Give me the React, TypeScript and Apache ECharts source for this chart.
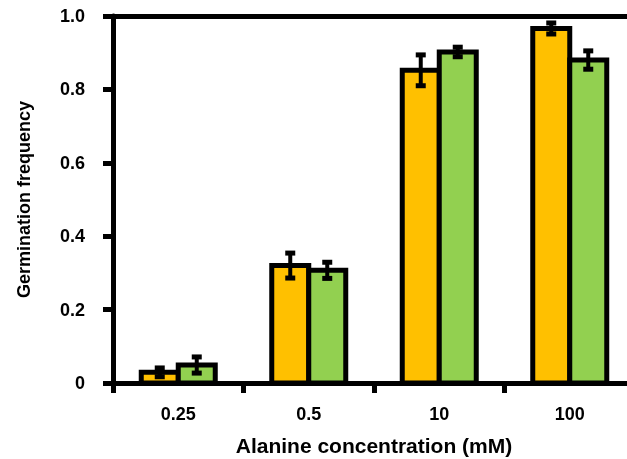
import React, { useEffect, useRef } from "react";
import * as echarts from "echarts";

const categories = ["0.25", "0.5", "10", "100"];
const seriesA = [0.029, 0.32, 0.852, 0.966];
const errorsA = [0.012, 0.034, 0.042, 0.015];
const seriesB = [0.049, 0.307, 0.902, 0.88];
const errorsB = [0.022, 0.022, 0.013, 0.025];
const yTicks = [0, 0.2, 0.4, 0.6, 0.8, 1.0];

const BAR_W = 37;
const FONT = "Liberation Sans, Arial, sans-serif";

function barSeries(values: number[], errs: number[], side: number, color: string) {
  const data = values.map((v, i) => [i, v, errs[i]]);
  return {
    type: "custom",
    xAxisIndex: 0,
    yAxisIndex: 0,
    z: 5,
    data,
    encode: { x: 0, y: 1 },
    renderItem: (params: any, api: any) => {
      const idx = api.value(0);
      const v = api.value(1);
      const e = api.value(2);
      const top = api.coord([idx, v]);
      const base = api.coord([idx, 0]);
      const xc = top[0] + (side * BAR_W) / 2;
      const hi = api.coord([idx, v + e])[1];
      const lo = api.coord([idx, v - e])[1];
      const capW = 10;
      const capH = 5;
      return {
        type: "group",
        children: [
          {
            type: "rect",
            shape: { x: xc - BAR_W / 2, y: top[1], width: BAR_W, height: base[1] - top[1] },
            style: { fill: color, stroke: "#000", lineWidth: 5 },
          },
          {
            type: "line",
            shape: { x1: xc, y1: hi, x2: xc, y2: lo },
            style: { stroke: "#000", lineWidth: 4 },
          },
          {
            type: "rect",
            shape: { x: xc - capW / 2, y: hi - capH / 2, width: capW, height: capH },
            style: { fill: "#000" },
          },
          {
            type: "rect",
            shape: { x: xc - capW / 2, y: lo - capH / 2, width: capW, height: capH },
            style: { fill: "#000" },
          },
        ],
      };
    },
  };
}

export default function App() {
  const ref = useRef<HTMLDivElement>(null);
  useEffect(() => {
    if (!ref.current) return;
    const chart = echarts.init(ref.current, null, { renderer: "svg" });
    chart.setOption({
      animation: false,
      grid: { left: 113, top: 16, width: 522, height: 367, outerBoundsMode: "none", containLabel: false },
      xAxis: [
        {
          type: "category",
          data: categories,
          position: "bottom",
          z: 10,
          axisLine: { lineStyle: { color: "#000", width: 5 } },
          axisTick: { show: true, length: 10, lineStyle: { color: "#000", width: 5 } },
          axisLabel: { color: "#000", fontSize: 18, fontWeight: "bold", fontFamily: FONT, margin: 22 },
          name: "Alanine concentration (mM)",
          nameLocation: "middle",
          nameGap: 52,
          nameMoveOverlap: false,
          nameTextStyle: { color: "#000", fontSize: 21, fontWeight: "bold", fontFamily: FONT },
          splitLine: { show: false },
        },
        {
          type: "category",
          data: categories,
          position: "top",
          axisLine: { lineStyle: { color: "#000", width: 5 } },
          axisTick: { show: false },
          axisLabel: { show: false },
          splitLine: { show: false },
        },
      ],
      yAxis: {
        type: "value",
        min: 0,
        max: 1,
        interval: 0.2,
        z: 10,
        axisLine: { show: true, lineStyle: { color: "#000", width: 5 } },
        axisTick: { show: true, length: 10, lineStyle: { color: "#000", width: 5 } },
        axisLabel: {
          color: "#000",
          fontSize: 18,
          fontWeight: "bold",
          fontFamily: FONT,
          margin: 28,
          formatter: (v: number) => {
            const t = yTicks.find((y) => Math.abs(y - v) < 1e-9);
            if (t === undefined) return "";
            return t === 0 ? "0" : t.toFixed(1);
          },
        },
        splitLine: { show: false },
        name: "Germination frequency",
        nameLocation: "middle",
        nameGap: 80,
        nameMoveOverlap: false,
        nameTextStyle: { color: "#000", fontSize: 18, fontWeight: "bold", fontFamily: FONT },
      },
      series: [
        barSeries(seriesA, errorsA, -1, "#FFC000"),
        barSeries(seriesB, errorsB, 1, "#92D050"),
      ],
    });
    return () => chart.dispose();
  }, []);
  return (
    <div
      ref={ref}
      style={{ position: "fixed", left: 0, top: 0, width: 627, height: 459, overflow: "hidden" }}
    />
  );
}
